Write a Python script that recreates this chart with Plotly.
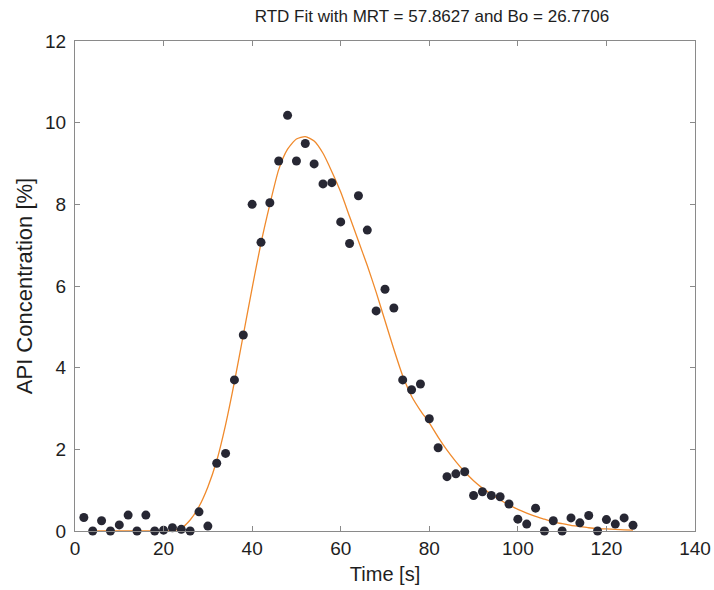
import plotly.graph_objects as go

# Measured data (time [s], API concentration [%])
time_s = [2, 4, 6, 8, 10, 12, 14, 16, 18, 20, 22, 24, 26, 28, 30, 32, 34, 36, 38, 40,
          42, 44, 46, 48, 50, 52, 54, 56, 58, 60, 62, 64, 66, 68, 70, 72, 74, 76, 78, 80,
          82, 84, 86, 88, 90, 92, 94, 96, 98, 100, 102, 104, 106, 108, 110, 112, 114, 116,
          118, 120, 122, 124, 126]
conc = [0.33, 0.0, 0.25, 0.0, 0.15, 0.39, 0.0, 0.39, 0.0, 0.02, 0.08, 0.04, 0.0, 0.47,
        0.12, 1.66, 1.90, 3.70, 4.80, 8.00, 7.07, 8.04, 9.06, 10.18, 9.06, 9.49, 8.99,
        8.50, 8.53, 7.57, 7.04, 8.21, 7.37, 5.39, 5.92, 5.46, 3.70, 3.46, 3.60, 2.75,
        2.04, 1.33, 1.40, 1.45, 0.87, 0.96, 0.87, 0.84, 0.66, 0.29, 0.17, 0.56, 0.0,
        0.25, 0.0, 0.32, 0.20, 0.38, 0.0, 0.28, 0.17, 0.32, 0.14]

# Fitted RTD curve
fit_t = [5, 10, 15, 20, 22, 24, 26, 28, 30, 32, 34, 36, 38, 40, 42, 44, 46, 48, 50, 52,
         54, 56, 58, 60, 62, 64, 66, 68, 70, 72, 74, 76, 78, 80, 82, 84, 86, 88, 90, 92,
         94, 96, 98, 100, 102, 104, 106, 108, 110, 112, 114, 116, 118, 120, 122, 124, 126]
fit_c = [0.0, 0.0, 0.0, 0.0, 0.005, 0.07, 0.27, 0.6, 1.08, 1.72, 2.6, 3.65, 4.8, 5.95,
         7.05, 8.0, 8.85, 9.35, 9.6, 9.66, 9.55, 9.25, 8.8, 8.3, 7.7, 7.1, 6.5, 5.85,
         5.15, 4.45, 3.8, 3.3, 2.95, 2.65, 2.3, 1.98, 1.7, 1.45, 1.23, 1.05, 0.9, 0.76,
         0.64, 0.53, 0.44, 0.36, 0.29, 0.22, 0.18, 0.14, 0.11, 0.08, 0.06, 0.05, 0.04,
         0.03, 0.02]

x_ticks = [0, 20, 40, 60, 80, 100, 120, 140]
y_ticks = [0, 2, 4, 6, 8, 10, 12]

FONT = "Liberation Sans, Arial, sans-serif"
AXIS_COL = "#8a8a8a"
TXT = "#1e1e1e"

fig = go.Figure()
fig.add_trace(go.Scatter(
    x=fit_t, y=fit_c, mode="lines",
    line=dict(color="#f08a2c", width=1.3, shape="spline", smoothing=0.6),
    cliponaxis=False, showlegend=False, hoverinfo="skip"))
fig.add_trace(go.Scatter(
    x=time_s, y=conc, mode="markers",
    marker=dict(color="#272733", size=9, line=dict(width=0)),
    cliponaxis=False, showlegend=False))

fig.update_layout(
    width=714, height=590,
    margin=dict(l=75, r=19, t=41, b=59),
    paper_bgcolor="white", plot_bgcolor="white",
    font=dict(family=FONT, size=19, color=TXT),
    title=dict(text="RTD Fit with MRT = 57.8627 and Bo = 26.7706",
               x=0.605, xanchor="center", y=0.973, yanchor="middle",
               font=dict(family=FONT, size=17, color=TXT)),
)
fig.update_xaxes(
    range=[0, 140], tickvals=x_ticks, ticktext=[str(v) for v in x_ticks],
    ticks="inside", ticklen=5, tickcolor=AXIS_COL, tickwidth=1,
    showline=True, linecolor=AXIS_COL, linewidth=1, mirror="ticks",
    showgrid=False, zeroline=False, automargin=False,
    title=dict(text="Time [s]", standoff=9, font=dict(size=20)),
    tickfont=dict(size=19))
fig.update_yaxes(
    range=[0, 12], tickvals=y_ticks, ticktext=[str(v) for v in y_ticks],
    ticks="inside", ticklen=5, tickcolor=AXIS_COL, tickwidth=1,
    showline=True, linecolor=AXIS_COL, linewidth=1, mirror="ticks",
    showgrid=False, zeroline=False, ticklabelstandoff=4, automargin=False,
    title=dict(text="API Concentration [%]", standoff=6, font=dict(size=22)),
    tickfont=dict(size=19))

fig.write_html("out.html")
